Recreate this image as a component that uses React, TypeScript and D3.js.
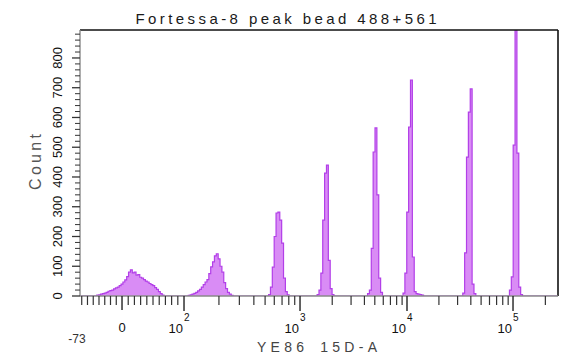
import React from "react";
import * as d3 from "d3";

// ---- data ----
const title = "Fortessa-8 peak bead 488+561";
const xLabel = "YE86_15D-A";
const yLabel = "Count";

// histogram: 256 channels uniform across the display axis
const channelCount = 256;
const peakStart = [9, 58, 101, 127, 154, 173, 205, 230];
const peakCounts = [
  [3, 4, 6, 8, 10, 12, 16, 18, 20, 24, 27, 30, 35, 40, 47, 54, 65, 80, 88, 78, 80, 70, 72, 63, 60, 55, 50, 47, 42, 38, 35, 28, 22, 15, 8, 3],
  [2, 4, 6, 9, 12, 17, 22, 30, 38, 47, 55, 75, 98, 115, 135, 142, 125, 100, 80, 45, 25, 12, 6, 2],
  [5, 30, 97, 200, 279, 282, 255, 178, 60, 15, 4],
  [5, 20, 77, 255, 413, 440, 120, 25, 5],
  [8, 20, 160, 484, 565, 340, 60, 12],
  [10, 77, 282, 568, 726, 131, 15, 8, 6, 5, 3],
  [10, 145, 467, 618, 696, 40, 8],
  [20, 64, 507, 980, 480, 30, 5],
];

// axis values
const xDomainMin = -73;
const xDomainMax = 262144;
const xDecades = [100, 1000, 10000, 100000];
const xDecadeExp = ["2", "3", "4", "5"];
const xLinearMinor = [-70, -60, -50, -40, -30, -20, -10, 10, 20, 30, 40, 50, 60, 70, 80, 90];
const yTicks = [0, 100, 200, 300, 400, 500, 600, 700, 800];
const yMax = 894;

// ---- layout ----
const W = 562;
const H = 354;
const left = 80;
const right = 558;
const top = 30;
const bottom = 296;

// display transform (linear near zero, log above 100) — anchored like the FlowJo biex axis
const T = (v: number) => (v <= 100 ? v / 100 : 1 + Math.log10(v / 100));
const anchorValues = [xDomainMin, 0, 100, 1000, 10000, 100000, xDomainMax];
const anchorFrac = [0, 0.0879, 0.2176, 0.4603, 0.6841, 0.9059, 1];

export default function App() {
  const pw = right - left;
  const tScale = d3
    .scaleLinear()
    .domain(anchorValues.map(T))
    .range(anchorFrac.map((f) => left + f * pw));
  const x = (v: number) => tScale(T(v));
  const y = d3.scaleLinear().domain([0, yMax]).range([bottom, top]);
  const ch = d3.scaleLinear().domain([0, channelCount]).range([left, right]);

  const counts: number[] = new Array(channelCount).fill(0);
  peakStart.forEach((s, i) => {
    peakCounts[i].forEach((c, j) => {
      counts[s + j] = c;
    });
  });
  const pts: [number, number][] = counts.map((c, i) => [i, c]);
  pts.push([channelCount, 0]);

  const area = d3
    .area<[number, number]>()
    .x((d) => ch(d[0]))
    .y0(y(0))
    .y1((d) => y(Math.min(d[1], yMax + 20)))
    .curve(d3.curveStepAfter);
  const line = d3
    .line<[number, number]>()
    .x((d) => ch(d[0]))
    .y((d) => y(Math.min(d[1], yMax + 20)))
    .curve(d3.curveStepAfter);

  const logMinor: number[] = [];
  [100, 1000, 10000].forEach((d) => {
    for (let m = 2; m <= 9; m++) logMinor.push(m * d);
  });
  logMinor.push(200000);
  const xMinor = [...xLinearMinor, ...logMinor];

  const yMinor: number[] = [];
  for (let v = 20; v <= yMax; v += 20) if (v % 100 !== 0) yMinor.push(v);

  const font = "'Liberation Sans', Arial, sans-serif";
  const axisCol = "#8a8a8a";

  return (
    <svg
      width={W}
      height={H}
      style={{ position: "absolute", left: 0, top: 0, background: "#fff" }}
      fontFamily={font}
    >
      <defs>
        <clipPath id="plotclip">
          <rect x={left} y={top} width={pw} height={bottom - top} />
        </clipPath>
      </defs>

      {/* title */}
      <text
        x={286}
        y={24}
        fontSize={15}
        textAnchor="middle"
        fill="#1a1a1a"
        textLength={301}
        lengthAdjust="spacing"
      >
        {title}
      </text>

      {/* histogram */}
      <g clipPath="url(#plotclip)">
        <path d={area(pts) || ""} fill="#d98cf5" />
        <path d={line(pts) || ""} fill="none" stroke="#b23fe8" strokeWidth={1.2} />
      </g>

      {/* frame */}
      <line x1={left} x2={right} y1={top} y2={top} stroke="#111" strokeWidth={1.6} />
      <line x1={right} x2={right} y1={top} y2={bottom} stroke="#111" strokeWidth={1.6} />
      <line x1={left} x2={left} y1={top} y2={bottom} stroke={axisCol} strokeWidth={1.4} />
      <line x1={left} x2={right} y1={bottom} y2={bottom} stroke={axisCol} strokeWidth={1.4} />

      {/* y axis ticks */}
      {yMinor.map((v) => (
        <line key={"ym" + v} x1={left - 5} x2={left} y1={y(v)} y2={y(v)} stroke="#333" strokeWidth={1} />
      ))}
      {yTicks.map((v) => (
        <g key={"yt" + v}>
          <line x1={left - 8} x2={left} y1={y(v)} y2={y(v)} stroke="#333" strokeWidth={1.3} />
          <text
            transform={`translate(${left - 18},${y(v)}) rotate(-90)`}
            fontSize={13}
            textAnchor="middle"
            fill="#111"
          >
            {v}
          </text>
        </g>
      ))}
      <text
        transform={`translate(41,${(top + bottom) / 2 - 1}) rotate(-90)`}
        fontSize={16}
        textAnchor="middle"
        fill="#555"
        textLength={56}
        lengthAdjust="spacing"
      >
        {yLabel}
      </text>

      {/* x axis ticks */}
      {xMinor.map((v) => (
        <line key={"xm" + v} x1={x(v)} x2={x(v)} y1={bottom} y2={bottom + 9} stroke="#333" strokeWidth={1.2} />
      ))}
      <line x1={x(0)} x2={x(0)} y1={bottom} y2={bottom + 14} stroke="#222" strokeWidth={1.4} />
      {xDecades.map((v) => (
        <line key={"xd" + v} x1={x(v)} x2={x(v)} y1={bottom} y2={bottom + 15} stroke="#222" strokeWidth={1.4} />
      ))}
      <text x={x(0)} y={332} fontSize={13} textAnchor="middle" fill="#111">
        0
      </text>
      {xDecades.map((v, i) => (
        <g key={"xl" + v}>
          <text x={x(v) - 1} y={333} fontSize={13} textAnchor="end" fill="#111">
            10
          </text>
          <text x={x(v)} y={321} fontSize={10} textAnchor="start" fill="#111">
            {xDecadeExp[i]}
          </text>
        </g>
      ))}
      <text x={77} y={343} fontSize={12} textAnchor="middle" fill="#333">
        {String(xDomainMin)}
      </text>
      <text
        x={317}
        y={352}
        fontSize={14}
        textAnchor="middle"
        fill="#444"
        textLength={120}
        lengthAdjust="spacing"
      >
        {xLabel}
      </text>
    </svg>
  );
}
